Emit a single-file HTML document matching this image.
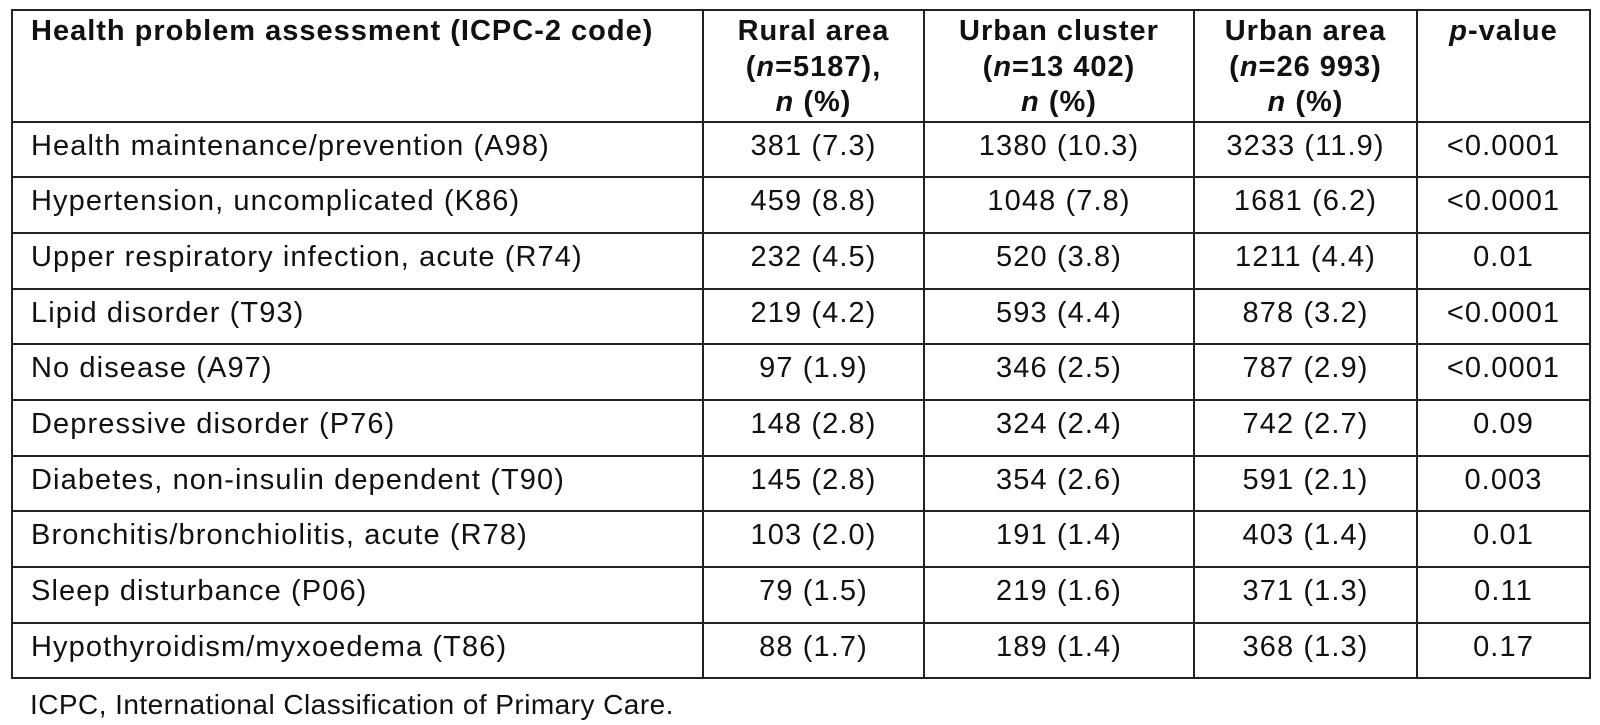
<!DOCTYPE html>
<html><head><meta charset="utf-8"><style>
body{margin:0;width:1600px;height:725px;background:#fff;position:relative;font-family:"Liberation Sans",Arial,sans-serif;color:#111;overflow:hidden}
table{position:absolute;left:11px;top:9px;border-collapse:collapse;table-layout:fixed}
td{border:2px solid #222;padding:0;vertical-align:top;font-size:29px;letter-spacing:1.1px;line-height:34px;height:47.7px;padding-top:6px;text-align:center}
td.l{text-align:left;padding-left:18px}
tr.h td{font-weight:bold;height:104px;padding-top:3px;line-height:35.5px;letter-spacing:1px}
.f{position:absolute;left:30px;top:688px;font-size:28px;letter-spacing:0.45px;line-height:34px}
</style></head><body>
<table>
<colgroup><col style="width:691px"><col style="width:221px"><col style="width:270px"><col style="width:223px"><col style="width:173px"></colgroup>
<tr class="h"><td class="l">Health problem assessment (ICPC-2 code)</td><td>Rural area<br>(<i>n</i>=5187),<br><i>n</i> (%)</td><td>Urban cluster<br>(<i>n</i>=13 402)<br><i>n</i> (%)</td><td>Urban area<br>(<i>n</i>=26 993)<br><i>n</i> (%)</td><td><i>p</i>-value</td></tr>
<tr><td class="l">Health maintenance/prevention (A98)</td><td>381 (7.3)</td><td>1380 (10.3)</td><td>3233 (11.9)</td><td>&lt;0.0001</td></tr>
<tr><td class="l">Hypertension, uncomplicated (K86)</td><td>459 (8.8)</td><td>1048 (7.8)</td><td>1681 (6.2)</td><td>&lt;0.0001</td></tr>
<tr><td class="l">Upper respiratory infection, acute (R74)</td><td>232 (4.5)</td><td>520 (3.8)</td><td>1211 (4.4)</td><td>0.01</td></tr>
<tr><td class="l">Lipid disorder (T93)</td><td>219 (4.2)</td><td>593 (4.4)</td><td>878 (3.2)</td><td>&lt;0.0001</td></tr>
<tr><td class="l">No disease (A97)</td><td>97 (1.9)</td><td>346 (2.5)</td><td>787 (2.9)</td><td>&lt;0.0001</td></tr>
<tr><td class="l">Depressive disorder (P76)</td><td>148 (2.8)</td><td>324 (2.4)</td><td>742 (2.7)</td><td>0.09</td></tr>
<tr><td class="l">Diabetes, non-insulin dependent (T90)</td><td>145 (2.8)</td><td>354 (2.6)</td><td>591 (2.1)</td><td>0.003</td></tr>
<tr><td class="l">Bronchitis/bronchiolitis, acute (R78)</td><td>103 (2.0)</td><td>191 (1.4)</td><td>403 (1.4)</td><td>0.01</td></tr>
<tr><td class="l">Sleep disturbance (P06)</td><td>79 (1.5)</td><td>219 (1.6)</td><td>371 (1.3)</td><td>0.11</td></tr>
<tr><td class="l">Hypothyroidism/myxoedema (T86)</td><td>88 (1.7)</td><td>189 (1.4)</td><td>368 (1.3)</td><td>0.17</td></tr>
</table>
<div class="f">ICPC, International Classification of Primary Care.</div>
</body></html>
